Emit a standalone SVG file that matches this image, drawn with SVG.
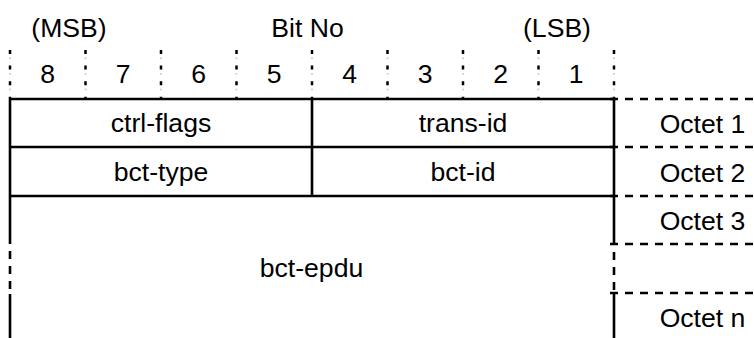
<svg xmlns="http://www.w3.org/2000/svg" width="754" height="338" viewBox="0 0 754 338">
<style>
text{font-family:"Liberation Sans",Arial,sans-serif;font-size:26.6px;fill:#000;text-anchor:middle}
.solid{stroke:#000;stroke-width:2.6;fill:none}
.dash{stroke:#000;stroke-width:2.6;fill:none;stroke-dasharray:8 7}
.dot{stroke:#000;stroke-width:2.5;stroke-dasharray:4 11.6}
.dot2{stroke:#c8c8c8;stroke-width:2;stroke-dasharray:1.5 14.1}
</style>
<rect width="754" height="338" fill="#fff"/>
<g id="header">
<text x="69" y="37">(MSB)</text>
<text x="307.5" y="37">Bit No</text>
<text x="557" y="37">(LSB)</text>
<g id="bit-ticks">
<path class="dot" d="M10 50V98M85.5 50V98M161 50V98M236.5 50V98M312 50V98M387.5 50V98M463 50V98M538.5 50V98M614 50V98"/>
<path class="dot2" d="M10 57.5V98M85.5 57.5V98M161 57.5V98M236.5 57.5V98M312 57.5V98M387.5 57.5V98M463 57.5V98M538.5 57.5V98M614 57.5V98"/>
</g>
<text x="47.75" y="83">8</text>
<text x="123.25" y="83">7</text>
<text x="198.75" y="83">6</text>
<text x="274.25" y="83">5</text>
<text x="349.75" y="83">4</text>
<text x="425.25" y="83">3</text>
<text x="500.75" y="83">2</text>
<text x="576.25" y="83">1</text>
</g>
<g id="connectors">
<path class="solid" d="M10 99H614M10 147H614M10 196H614M312 99V196"/>
<path class="solid" d="M10 98V243M10 294V340M614 98V244M614 293V340"/>
<path class="dash" d="M10 243V294" stroke-dashoffset="-8"/>
<path class="dash" d="M614 244V293" stroke-dashoffset="-8"/>
<path class="dash" d="M610 99H754M610 147H754M610 196H754M610 244H754M610 293H754"/>
</g>
<g id="ctrl-flags"><text x="161" y="132">ctrl-flags</text></g>
<g id="trans-id"><text x="463" y="132">trans-id</text></g>
<g id="bct-type"><text x="161" y="181">bct-type</text></g>
<g id="bct-id"><text x="463" y="181">bct-id</text></g>
<g id="bct-epdu"><text x="311.5" y="277">bct-epdu</text></g>
<g id="octets">
<text x="702.5" y="133">Octet 1</text>
<text x="702.5" y="181.5">Octet 2</text>
<text x="702.5" y="230">Octet 3</text>
<text x="702.5" y="326.5">Octet n</text>
</g>
</svg>
